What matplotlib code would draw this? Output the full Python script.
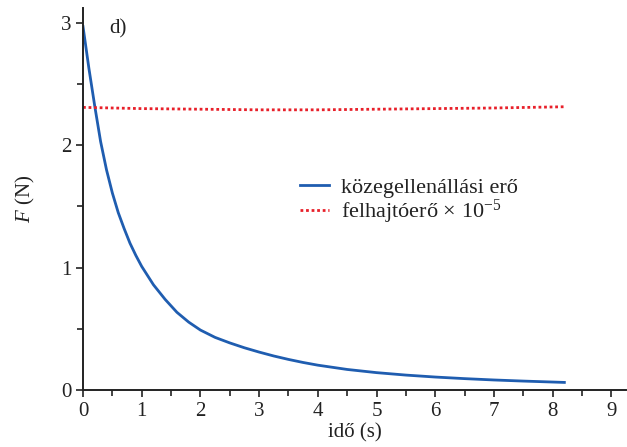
import matplotlib
matplotlib.use('Agg')
import matplotlib.pyplot as plt
from matplotlib.ticker import MultipleLocator

# Data
t_drag = [0, 0.1, 0.2, 0.3, 0.4, 0.5, 0.6, 0.7, 0.8, 0.9, 1.0, 1.2, 1.4, 1.6,
          1.8, 2.0, 2.25, 2.5, 2.75, 3.0, 3.25, 3.5, 3.75, 4.0, 4.5, 5.0, 5.5,
          6.0, 6.5, 7.0, 7.5, 8.2]
f_drag = [2.97, 2.63, 2.32, 2.03, 1.80, 1.61, 1.45, 1.32, 1.20, 1.10, 1.01,
          0.86, 0.74, 0.635, 0.555, 0.49, 0.43, 0.385, 0.345, 0.31, 0.278,
          0.25, 0.225, 0.203, 0.168, 0.142, 0.122, 0.106, 0.093, 0.082, 0.073,
          0.062]

t_buoy = [0, 1, 2, 3, 4, 5, 6, 7, 8.2]
f_buoy = [2.31, 2.30, 2.295, 2.29, 2.29, 2.295, 2.30, 2.305, 2.315]

x_ticks = [0, 1, 2, 3, 4, 5, 6, 7, 8, 9]
y_ticks = [0, 1, 2, 3]

plt.rcParams['font.family'] = ['Liberation Serif', 'DejaVu Serif']
plt.rcParams['mathtext.fontset'] = 'custom'
plt.rcParams['mathtext.it'] = 'Liberation Serif:italic'
plt.rcParams['mathtext.rm'] = 'Liberation Serif'

fig = plt.figure(figsize=(6.27, 4.47), dpi=100)
ax = fig.add_axes([0.1324, 0.1275, 0.866, 0.854])

ax.plot(t_drag, f_drag, color='#1f5db0', lw=2, label='közegellenállási erő')
ax.plot(t_buoy, f_buoy, color='#e8202a', lw=2, ls=(0, (1, 1)),
        label='felhajtóerő × 10$^{-5}$')

ax.set_xlim(0, 9.25)
ax.set_ylim(0, 3.12)
ax.set_xticks(x_ticks)
ax.set_yticks(y_ticks)
ax.xaxis.set_minor_locator(MultipleLocator(0.5))
ax.yaxis.set_minor_locator(MultipleLocator(0.5))
ax.tick_params(which='major', length=5, width=1.2, labelsize=15, colors='#222222')
ax.tick_params(which='minor', length=4, width=1.2, colors='#222222')

for s in ['top', 'right']:
    ax.spines[s].set_visible(False)
for s in ['left', 'bottom']:
    ax.spines[s].set_linewidth(1.4)
    ax.spines[s].set_color('#222222')

ax.set_xlabel('idő (s)', fontsize=15, labelpad=2, color='#222222')
ax.set_ylabel('$F$ (N)', fontsize=15, labelpad=17, color='#222222')

ax.text(0.45, 2.95, 'd)', fontsize=15, color='#222222', va='center')

leg = ax.legend(loc='center left', bbox_to_anchor=(0.40, 0.493), frameon=False,
                fontsize=16, handlelength=1.3, handletextpad=0.55,
                labelspacing=0.0, borderpad=0, borderaxespad=0)
for txt in leg.get_texts():
    txt.set_color('#222222')

fig.savefig('out.png', dpi=100)
